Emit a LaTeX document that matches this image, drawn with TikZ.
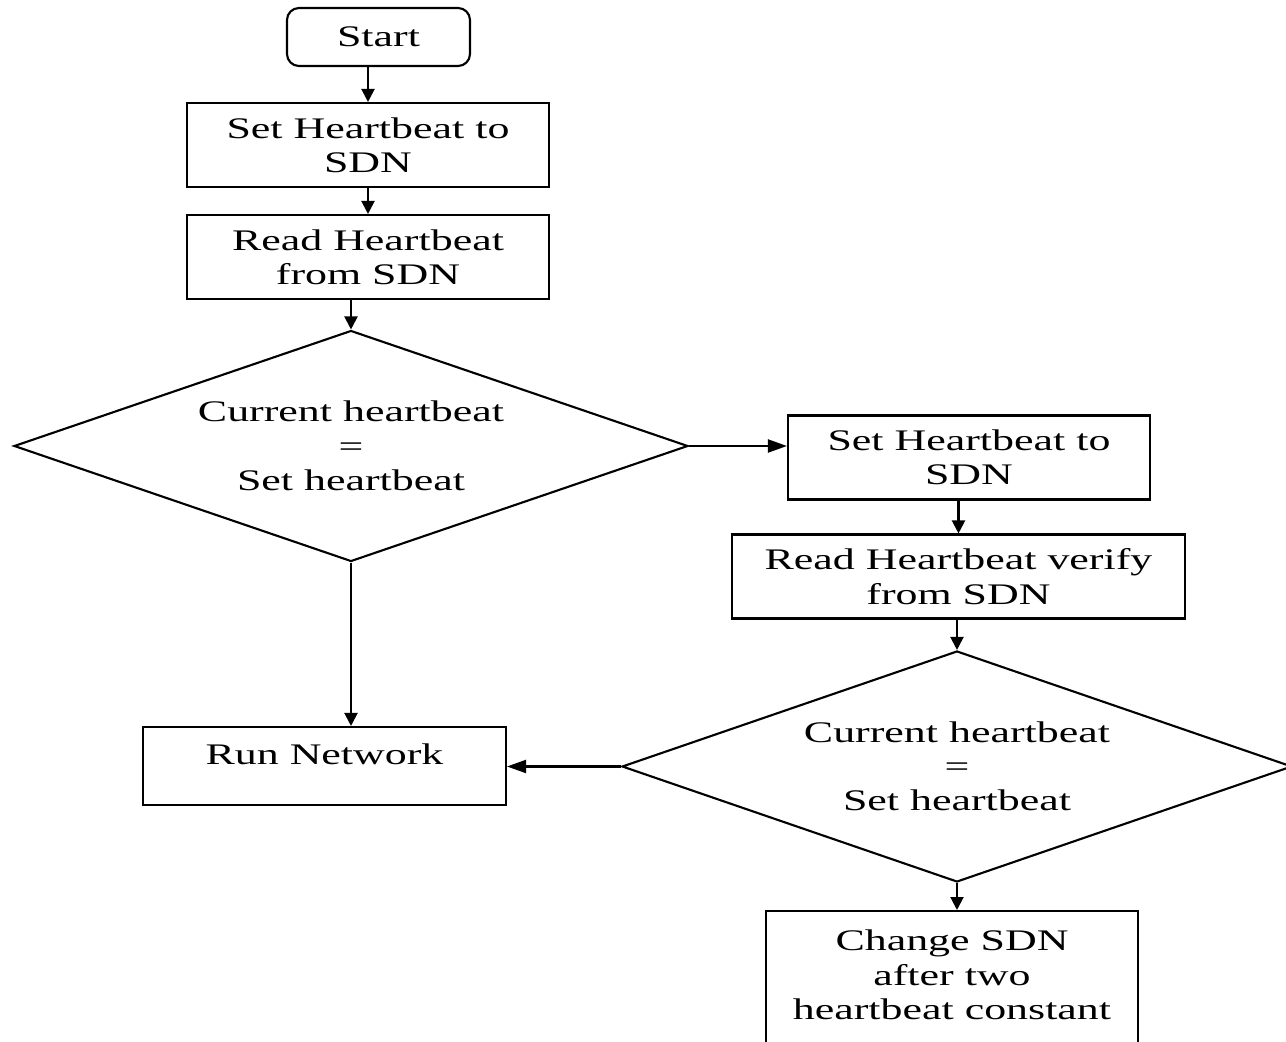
\documentclass[tikz,border=0pt]{standalone}
\usepackage{fontspec}
\setmainfont{Liberation Serif}[FakeStretch=1.47]
\usepackage{tikz}
\usetikzlibrary{arrows.meta,shapes.geometric}

\tikzset{
  box/.style={draw=black, line width=0.6pt, minimum width=3.62cm, minimum height=0.84cm, align=center, inner sep=0pt},
  test/.style={draw=black, line width=0.6pt, diamond, aspect=2.9, minimum width=6.74cm, minimum height=2.31cm, align=center, inner sep=0pt},
  down/.style={line width=0.6pt, -{Triangle[length=0.13cm,width=0.13cm]}},
  across/.style={line width=0.6pt, -{Triangle[length=0.19cm,width=0.13cm]}}
}

\begin{document}
\begin{tikzpicture}[font=\fontsize{8.5}{9.75}\selectfont]
\useasboundingbox (0cm,0cm) rectangle (12.86cm,-10.42cm);
\node[box, rounded corners=0.12cm, minimum width=1.83cm, minimum height=0.58cm] (1) at (3.785cm,-0.37cm) {Start};
\node[box] (2) at (3.68cm,-1.45cm) {Set Heartbeat to\\SDN};
\node[box] (3) at (3.68cm,-2.57cm) {Read Heartbeat\\from SDN};
\node[test] (4) at (3.51cm,-4.46cm) {Current heartbeat\\=\\Set heartbeat};
\node[box] (5) at (9.69cm,-4.575cm) {Set Heartbeat to\\SDN};
\node[box, minimum width=4.53cm] (6) at (9.585cm,-5.765cm) {Read Heartbeat verify\\from SDN};
\node[test, minimum width=6.70cm] (7) at (9.57cm,-7.665cm) {Current heartbeat\\=\\Set heartbeat};
\node[box, minimum width=3.63cm, minimum height=0.78cm, text height=0.2cm, text depth=0.22cm] (8) at (3.245cm,-7.66cm) {Run Network};
\node[box, anchor=north, minimum width=3.72cm, minimum height=1.40cm, text depth=0.125cm] (9) at (9.52cm,-9.10cm) {Change SDN\\after two\\heartbeat constant};

\draw[down] (1.south -| 2.north) -- (2.north);
\draw[down] (2) -- (3);
\draw[down] (3.south -| 4.north) -- (4.north);
\draw[across] (4.east) -- (4.east -| 5.west);
\draw[down] (5.south -| 6.north) -- (6.north);
\draw[down] (6.south -| 7.north) -- (7.north);
\draw[down] (4.south) -- (4.south |- 8.north);
\draw[across] (7.west) -- (7.west -| 8.east);
\draw[down] (7.south) -- (7.south |- 9.north);
\end{tikzpicture}
\end{document}
